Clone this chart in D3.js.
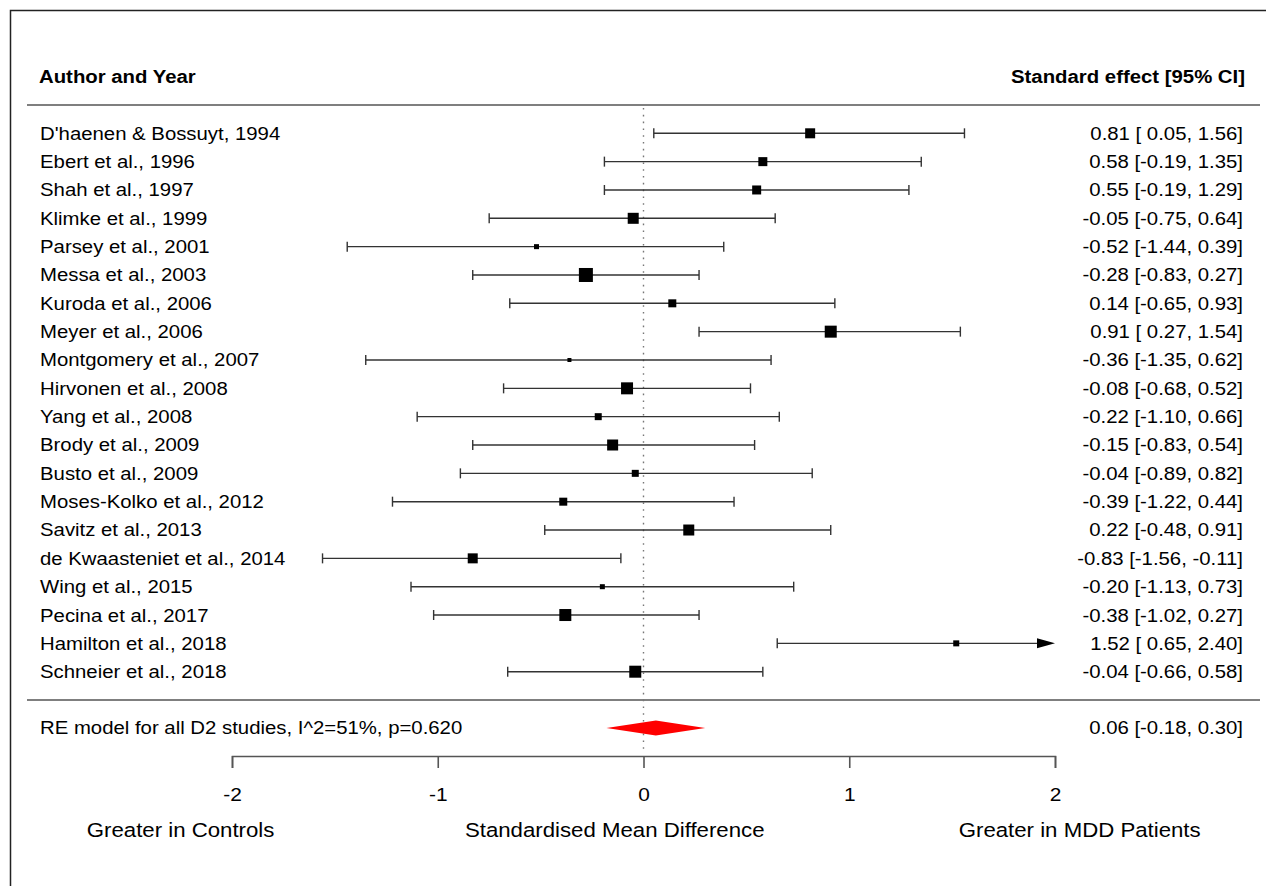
<!DOCTYPE html>
<html>
<head>
<meta charset="utf-8">
<script src="https://cdn.jsdelivr.net/npm/d3@7"></script>
<style>
  body { margin: 0; background: #fff; }
  text { font-family: "Liberation Sans", Arial, sans-serif; fill: #000; }
</style>
</head>
<body>
<div id="chart-area"></div>
<script>
// study data
var studies = [
    "D'haenen & Bossuyt, 1994", "Ebert et al., 1996", "Shah et al., 1997",
    "Klimke et al., 1999", "Parsey et al., 2001", "Messa et al., 2003",
    "Kuroda et al., 2006", "Meyer et al., 2006", "Montgomery et al., 2007",
    "Hirvonen et al., 2008", "Yang et al., 2008", "Brody et al., 2009",
    "Busto et al., 2009", "Moses-Kolko et al., 2012", "Savitz et al., 2013",
    "de Kwaasteniet et al., 2014", "Wing et al., 2015", "Pecina et al., 2017",
    "Hamilton et al., 2018", "Schneier et al., 2018"
];
var estimates = [0.81, 0.58, 0.55, -0.05, -0.52, -0.28, 0.14, 0.91, -0.36, -0.08,
                 -0.22, -0.15, -0.04, -0.39, 0.22, -0.83, -0.20, -0.38, 1.52, -0.04];
var lower     = [0.05, -0.19, -0.19, -0.75, -1.44, -0.83, -0.65, 0.27, -1.35, -0.68,
                 -1.10, -0.83, -0.89, -1.22, -0.48, -1.56, -1.13, -1.02, 0.65, -0.66];
var upper     = [1.56, 1.35, 1.29, 0.64, 0.39, 0.27, 0.93, 1.54, 0.62, 0.52,
                 0.66, 0.54, 0.82, 0.44, 0.91, -0.11, 0.73, 0.27, 2.40, 0.58];
// relative study weights (%), estimated from square sizes
var weights   = [5.6, 5.0, 5.0, 6.2, 2.6, 8.0, 4.4, 6.8, 2.0, 6.8,
                 3.8, 6.2, 3.8, 4.4, 6.2, 5.6, 2.6, 6.8, 3.2, 6.8];

var summaryLabel = "RE model for all D2 studies, I^2=51%, p=0.620";
var summaryEffect = [0.06, -0.18, 0.30];   // estimate, lower, upper
var xTicks = [-2, -1, 0, 1, 2];
var footLabels = ["Greater in Controls", "Standardised Mean Difference", "Greater in MDD Patients"];
var footPositions = [-2.25, -0.14, 2.12];

var svgWidth = 1266, svgHeight = 886;
var stretch = 1.1;   // the source raster is slightly wider than tall

var svg = d3.select("#chart-area")
            .append("svg")
            .attr("width", svgWidth)
            .attr("height", svgHeight);

// frame (only top and left edges are inside the picture)
svg.append("rect")
   .attr("x", 10.5).attr("y", 10.5)
   .attr("width", 1300).attr("height", 1000)
   .attr("fill", "none")
   .attr("stroke", "#222")
   .attr("stroke-width", 1.5);

var x = d3.scaleLinear()
          .domain([-2, 2])
          .range([232, 1055]);

var y = d3.scalePoint()
          .domain(studies)
          .range([133.3, 671.7]);

var size = d3.scaleLinear()
             .domain([d3.min(weights), d3.max(weights)])
             .range([4, 14]);

function label(g, px, py, str, anchor, fs, weight, sx) {
    return g.append("text")
            .attr("transform", "translate(" + px + "," + py + ") scale(" + (sx || stretch) + ",1)")
            .attr("text-anchor", anchor)
            .attr("font-size", fs + "px")
            .attr("font-weight", weight || "normal")
            .style("white-space", "pre")
            .text(str);
}

function f2(v) { return (v < 0 ? "-" : "") + Math.abs(v).toFixed(2); }
function ciText(est, lo, hi) {
    return f2(est) + " [" + (lo < 0 ? "" : " ") + f2(lo) + ", " + f2(hi) + "]";
}

// header
label(svg, 39, 83, "Author and Year", "start", 18.5, "bold");
label(svg, 1245, 83, "Standard effect [95% CI]", "end", 18.5, "bold");

// separators
[105, 700].forEach(function(ly) {
    svg.append("line")
       .attr("x1", 27).attr("x2", 1260)
       .attr("y1", ly).attr("y2", ly)
       .attr("stroke", "#555")
       .attr("stroke-width", 1.6);
});

// zero reference line
svg.append("line")
   .attr("x1", x(0)).attr("x2", x(0))
   .attr("y1", 108).attr("y2", 749)
   .attr("stroke", "#777")
   .attr("stroke-width", 1.4)
   .attr("stroke-dasharray", "1.6,5.2");

var rows = studies.map(function(s, i) {
    return { name: s, est: estimates[i], lo: lower[i], hi: upper[i], w: weights[i] };
});

var xmin = x.domain()[0], xmax = x.domain()[1];
var arrowLen = 18, capH = 5;

var row = svg.selectAll("g.study")
             .data(rows)
             .enter()
             .append("g")
             .attr("class", "study")
             .attr("transform", function(d) { return "translate(0," + y(d.name) + ")"; });

row.append("line")
   .attr("x1", function(d) { return x(Math.max(d.lo, xmin)); })
   .attr("x2", function(d) { return d.hi > xmax ? x(xmax) - arrowLen : x(d.hi); })
   .attr("stroke", "#333")
   .attr("stroke-width", 1.4);

// end caps
row.filter(function(d) { return d.lo >= xmin; })
   .append("line")
   .attr("x1", function(d) { return x(d.lo); })
   .attr("x2", function(d) { return x(d.lo); })
   .attr("y1", -capH).attr("y2", capH)
   .attr("stroke", "#333").attr("stroke-width", 1.4);

row.filter(function(d) { return d.hi <= xmax; })
   .append("line")
   .attr("x1", function(d) { return x(d.hi); })
   .attr("x2", function(d) { return x(d.hi); })
   .attr("y1", -capH).attr("y2", capH)
   .attr("stroke", "#333").attr("stroke-width", 1.4);

// arrow for truncated intervals
row.filter(function(d) { return d.hi > xmax; })
   .append("path")
   .attr("d", function() {
       var tip = x(xmax);
       return "M" + tip + ",0L" + (tip - arrowLen) + "," + (-capH) + "L" + (tip - arrowLen) + "," + capH + "Z";
   })
   .attr("fill", "#000");

row.append("rect")
   .attr("x", function(d) { return x(d.est) - size(d.w) / 2; })
   .attr("y", function(d) { return -size(d.w) / 2; })
   .attr("width", function(d) { return size(d.w); })
   .attr("height", function(d) { return size(d.w); })
   .attr("fill", "#000");

row.each(function(d) {
    var g = d3.select(this);
    label(g, 40, 0, d.name, "start", 18.5).attr("dy", "0.35em");
    label(g, 1243, 0, ciText(d.est, d.lo, d.hi), "end", 18.5).attr("dy", "0.35em");
});

// summary diamond
var sy = 728, dh = 7.5;
svg.append("path")
   .attr("d", "M" + x(summaryEffect[1]) + "," + sy +
              "L" + x(summaryEffect[0]) + "," + (sy - dh) +
              "L" + x(summaryEffect[2]) + "," + sy +
              "L" + x(summaryEffect[0]) + "," + (sy + dh) + "Z")
   .attr("fill", "#ff0000");

label(svg, 40, sy, summaryLabel, "start", 18.5).attr("dy", "0.35em");
label(svg, 1243, sy, ciText(summaryEffect[0], summaryEffect[1], summaryEffect[2]), "end", 18.5).attr("dy", "0.35em");

// x axis
var xAxisCall = d3.axisBottom(x)
                  .tickValues(xTicks)
                  .tickSize(12)
                  .tickSizeOuter(12)
                  .tickPadding(20)
                  .tickFormat(function(d) { return d < 0 ? "-" + Math.abs(d) : String(d); });

var axisG = svg.append("g")
               .attr("transform", "translate(0,756)")
               .call(xAxisCall);

axisG.select(".domain").attr("stroke", "#555").attr("stroke-width", 1.6);
axisG.selectAll(".tick line").attr("stroke", "#555").attr("stroke-width", 1.6);
axisG.selectAll("text")
     .attr("font-size", "19px")
     .attr("font-family", "Liberation Sans, Arial, sans-serif")
     .attr("fill", "#000")
     .attr("transform", "scale(" + stretch + ",1)");

// foot labels
footLabels.forEach(function(t, i) {
    label(svg, x(footPositions[i]), 837, t, "middle", 19.5, "normal", 1.14);
});
</script>
</body>
</html>
